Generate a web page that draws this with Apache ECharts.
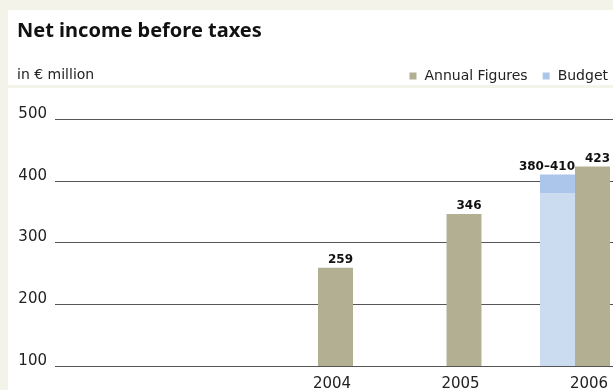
<!DOCTYPE html>
<html>
<head>
<meta charset="utf-8">
<script src="https://cdn.jsdelivr.net/npm/echarts@6/dist/echarts.min.js"></script>
<style>
html,body{margin:0;padding:0;background:#f4f3ea;}
#c{width:613px;height:390px;}
</style>
</head>
<body>
<div id="c"></div>
<script>
const categories = ['2004', '2005', '2006'];
const annualFigures = [259, 346, 423];
const budgetLow = [null, null, 380];
const budgetHigh = [null, null, 410];
const yTicks = [100, 200, 300, 400, 500];

const budgetTop = budgetHigh.map((v, i) => v == null ? null : v - budgetLow[i]);

const chart = echarts.init(document.getElementById('c'));
const numFont = 'DejaVu Sans';
const txtFont = 'DejaVu Sans';
const titleFont = 'Noto Sans';

chart.setOption({
  backgroundColor: '#f4f3ea',
  animation: false,
  graphic: [
    { type: 'rect', z: -10, shape: { x: 8, y: 10, width: 605, height: 75 }, style: { fill: '#ffffff' }, silent: true },
    { type: 'rect', z: -10, shape: { x: 8, y: 88, width: 605, height: 302 }, style: { fill: '#ffffff' }, silent: true }
  ],
  title: [
    { text: 'Net income before taxes', left: 17, top: 21, padding: 0,
      textStyle: { fontFamily: titleFont, fontWeight: 'bold', fontSize: 20, color: '#111' } },
    { text: 'in € million', left: 17, top: 68, padding: 0,
      textStyle: { fontFamily: txtFont, fontWeight: 'normal', fontSize: 14, color: '#222' } }
  ],
  legend: {
    data: ['Annual Figures', 'Budget'],
    right: 0, top: 64,
    icon: 'rect', itemWidth: 7, itemHeight: 7, itemGap: 15,
    textStyle: { fontFamily: txtFont, fontSize: 14, color: '#222', padding: [0, 0, 0, 3] }
  },
  grid: [
    { left: 55, right: 0, top: 119, bottom: 24, outerBoundsMode: 'none' },
    { left: 253.75, width: 385.5, top: 119, bottom: 24, outerBoundsMode: 'none' }
  ],
  xAxis: [
    { type: 'category', gridIndex: 0, data: categories, show: false },
    { type: 'category', gridIndex: 1, data: categories,
      axisLine: { show: false }, axisTick: { show: false },
      axisLabel: { margin: 11, padding: [0, 0, 0, 28], fontFamily: numFont, fontSize: 15, color: '#222' } }
  ],
  yAxis: [
    { type: 'value', gridIndex: 0, min: yTicks[0], max: yTicks[yTicks.length - 1], interval: 100,
      axisLine: { show: false }, axisTick: { show: false },
      axisLabel: { margin: 8, verticalAlign: 'bottom', lineHeight: 10, fontFamily: numFont, fontSize: 15, color: '#222' },
      splitLine: { show: true, lineStyle: { color: '#555', width: 1 } } },
    { type: 'value', gridIndex: 1, min: yTicks[0], max: yTicks[yTicks.length - 1], interval: 100, show: false,
      splitLine: { show: false } }
  ],
  series: [
    { name: 'Budget base', type: 'bar', xAxisIndex: 1, yAxisIndex: 1, stack: 'budget',
      data: budgetLow, barWidth: 35, barGap: '0%',
      itemStyle: { color: '#cbdcf1' } },
    { name: 'Budget', type: 'bar', xAxisIndex: 1, yAxisIndex: 1, stack: 'budget',
      data: budgetTop, barWidth: 35, barGap: '0%',
      itemStyle: { color: '#abc6ea' },
      label: { show: true, position: ['100%', -2], align: 'right', verticalAlign: 'bottom',
        fontFamily: numFont, fontWeight: 'bold', fontSize: 12, color: '#111',
        formatter: p => budgetLow[p.dataIndex] + '–' + budgetHigh[p.dataIndex] } },
    { name: 'Annual Figures', type: 'bar', xAxisIndex: 1, yAxisIndex: 1,
      data: annualFigures, barWidth: 35, barGap: '0%',
      itemStyle: { color: '#b3af92' },
      label: { show: true, position: ['100%', -2], align: 'right', verticalAlign: 'bottom',
        fontFamily: numFont, fontWeight: 'bold', fontSize: 12, color: '#111' } }
  ]
});
</script>
</body>
</html>
